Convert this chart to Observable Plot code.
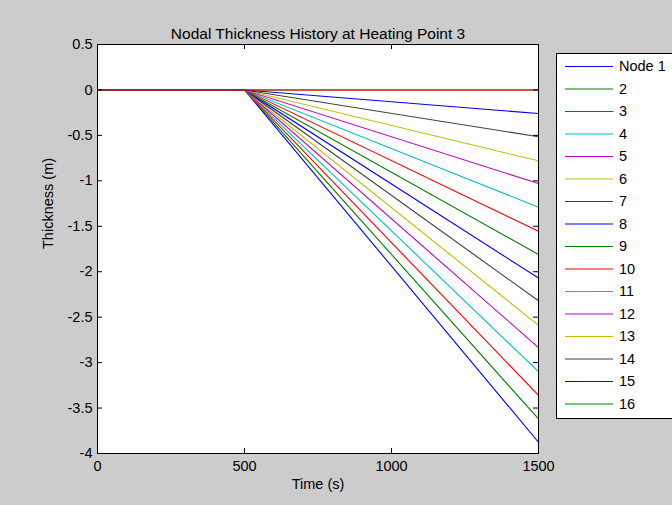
<!DOCTYPE html>
<html><head><meta charset="utf-8">
<script src="https://cdn.jsdelivr.net/npm/d3@7"></script>
<script src="https://cdn.jsdelivr.net/npm/@observablehq/plot@0.6"></script>
<style>html,body{margin:0;padding:0;background:#cccccc;} svg{display:block}</style>
</head><body><div id="chart"></div>
<script>
const titleText = "Nodal Thickness History at Heating Point 3";
const xLabel = "Time (s)";
const yLabel = "Thickness (m)";
const nodes = ["1","2","3","4","5","6","7","8","9","10","11","12","13","14","15","16","17"];
const legendLabels = ["Node 1","2","3","4","5","6","7","8","9","10","11","12","13","14","15","16"];
const times = [0, 500, 1500];
const thickness = [
  [0, 0, -3.876],
  [0, 0, -3.62],
  [0, 0, -3.36],
  [0, 0, -3.10],
  [0, 0, -2.835],
  [0, 0, -2.59],
  [0, 0, -2.32],
  [0, 0, -2.07],
  [0, 0, -1.81],
  [0, 0, -1.556],
  [0, 0, -1.29],
  [0, 0, -1.03],
  [0, 0, -0.78],
  [0, 0, -0.515],
  [0, 0, -0.26],
  [0, 0, 0],
  [0, 0, 0]
];
const colorCycle = ["#0000ff", "#008000", "#ff0000", "#00bfbf", "#bf00bf", "#bfbf00", "#404040"];
const xTicks = [0, 500, 1000, 1500];
const yTicks = [0.5, 0, -0.5, -1, -1.5, -2, -2.5, -3, -3.5, -4];

const nodeColors = nodes.map((n, i) => colorCycle[i % colorCycle.length]);
const data = nodes.flatMap((n, i) => times.map((t, j) => ({node: n, t, v: thickness[i][j]})));

const W = 672, H = 505, mL = 97, mR = 134, mT = 44, mB = 52;
const pw = W - mL - mR, ph = H - mT - mB;
const font = "'Liberation Sans', Arial, Helvetica, sans-serif";
const fs = 14.5;

const chart = Plot.plot({
  width: W, height: H,
  marginLeft: mL, marginRight: mR, marginTop: mT, marginBottom: mB,
  style: {background: "#cccccc", fontFamily: font, fontSize: fs + "px", color: "#000", overflow: "visible"},
  x: {domain: [0, 1500], label: null},
  y: {domain: [-4, 0.5], label: null},
  color: {domain: nodes, range: nodeColors},
  marks: [
    Plot.frame({fill: "white", stroke: "none"}),
    Plot.lineY(data, {x: "t", y: "v", z: "node", stroke: "node", strokeWidth: 1.1}),
    Plot.frame({stroke: "#000", strokeWidth: 1}),
    Plot.ruleX(xTicks, {x: d => d, insetTop: ph - 5, stroke: "#000"}),
    Plot.ruleX(xTicks, {x: d => d, insetBottom: ph - 5, stroke: "#000"}),
    Plot.ruleY(yTicks, {y: d => d, insetRight: pw - 5, stroke: "#000"}),
    Plot.ruleY(yTicks, {y: d => d, insetLeft: pw - 5, stroke: "#000"}),
    Plot.axisX({ticks: xTicks, tickSize: 0, tickPadding: 7, tickFormat: d => String(d), label: null, fontSize: fs}),
    Plot.axisY({ticks: yTicks, tickSize: 0, tickPadding: 5, tickFormat: d => String(d), label: null, fontSize: fs}),
    Plot.text([titleText], {frameAnchor: "top", dy: -17, fontSize: 15.5, fill: "#000"}),
    Plot.text([xLabel], {frameAnchor: "bottom", dy: 35, fontSize: fs, fill: "#000"}),
    Plot.text([yLabel], {frameAnchor: "left", dx: -49, rotate: -90, fontSize: fs, fill: "#000"})
  ]
});

// Legend (drawn into the same SVG)
const svg = d3.select(chart);
const lg = svg.append("g").attr("font-family", font).attr("font-size", fs).attr("text-anchor", "start");
const lx = 556, ly = 53, lw = 130, lh = 365, step = 22.5, firstY = 66;
lg.append("rect").attr("x", lx + 0.5).attr("y", ly + 0.5).attr("width", lw).attr("height", lh)
  .attr("fill", "white").attr("stroke", "#000");
legendLabels.forEach((lab, i) => {
  const y = firstY + i * step;
  lg.append("line").attr("x1", 565).attr("x2", 613).attr("y1", y + 0.5).attr("y2", y + 0.5)
    .attr("stroke", nodeColors[i]).attr("stroke-width", 1.1);
  lg.append("text").attr("x", 619).attr("y", y).attr("dy", "0.35em").attr("text-anchor", "start")
    .attr("fill", "#000").text(lab);
});

document.getElementById("chart").appendChild(chart);
</script>
</body></html>
